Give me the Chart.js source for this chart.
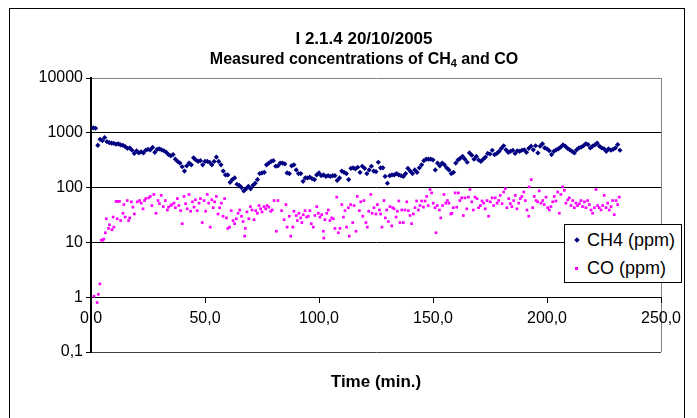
<!DOCTYPE html>
<html>
<head>
<meta charset="utf-8">
<script src="https://cdn.jsdelivr.net/npm/chart.js@4/dist/chart.umd.min.js"></script>
<style>
  html, body { margin: 0; padding: 0; background: #fff; }
  #wrap { position: relative; width: 697px; height: 418px; overflow: hidden; }
  #chart { position: absolute; left: 0; top: 0; }
  #frame { position: absolute; left: 9px; top: 8px; width: 676px; height: 440px; box-sizing: border-box;
           border: 1px solid #000; pointer-events: none; }
  #legend { position: absolute; left: 564px; top: 224px; width: 118px; height: 59px; box-sizing: border-box;
            border: 1px solid #000; background: #fff; font: 18px Arial, "Liberation Sans", sans-serif; color: #000; }
  #legend .txt { position: absolute; left: 22px; line-height: 18px; white-space: nowrap; }
  #legend .mk { position: absolute; }
</style>
</head>
<body>
<div id="wrap">
  <canvas id="chart" width="697" height="418"></canvas>
  <div id="frame"></div>
  <div id="legend"></div>
</div>
<script>
// chart text
const titleLine1 = 'I 2.1.4 20/10/2005';
const titleLine2 = ['Measured concentrations of CH', '4', ' and CO']; // middle part is a subscript
const xTitle = 'Time (min.)';
const seriesNames = ['CH4 (ppm)', 'CO (ppm)'];
const seriesColors = ['#000080', '#FF00FF'];

// axes
const xTickValues = [0, 50, 100, 150, 200, 250];
const xTickLabels = ['0,0', '50,0', '100,0', '150,0', '200,0', '250,0'];
const yTickValues = [0.1, 1, 10, 100, 1000, 10000];
const yTickLabels = ['0,1', '1', '10', '100', '1000', '10000'];

// CH4 (ppm), one reading per minute
const ch4Minutes = [
  1,2,3,4,5,6,7,8,9,10, 11,12,13,14,15,16,17,18,19,20,
  21,22,23,24,25,26,27,28,29,30, 31,32,33,34,35,36,37,38,39,40,
  41,42,43,44,45,46,47,48,49,50, 51,52,53,54,55,56,57,58,59,60,
  61,62,63,64,65,66,67,68,69,70, 71,72,73,74,75,76,77,78,79,80,
  81,82,83,84,85,86,87,88,89,90, 91,92,93,94,95,96,97,98,99,100,
  101,102,103,104,105,106,107,108,109,110, 111,112,113,114,115,116,117,118,119,120,
  121,122,123,124,125,126,127,128,129,130, 131,132,133,134,135,136,137,138,139,140,
  141,142,143,144,145,146,147,148,149,150, 151,152,153,154,155,156,157,158,159,160,
  161,162,163,164,165,166,167,168,169,170, 171,172,173,174,175,176,177,178,179,180,
  181,182,183,184,185,186,187,188,189,190, 191,192,193,194,195,196,197,198,199,200,
  201,202,203,204,205,206,207,208,209,210, 211,212,213,214,215,216,217,218,219,220,
  221,222,223,224,225,226,227,228,229,230, 231,232
];
const ch4Ppm = [
  1230,1210,590,760,720,820,690,660,650,640, 620,630,600,590,560,520,530,480,420,470,
  430,450,430,480,500,490,540,440,500,510, 490,470,440,400,380,400,330,300,280,240,
  200,250,280,260,350,320,300,310,260,300, 300,290,260,300,360,300,260,200,170,170,
  125,140,150,115,110,100,87,95,105,95, 110,120,140,180,185,190,260,280,300,310,
  245,250,280,280,270,185,180,250,260,210, 180,180,130,150,150,155,145,140,170,185,
  165,170,160,165,160,165,165,135,150,200, 190,180,140,225,230,220,235,190,245,225,
  180,210,245,200,195,290,230,230,160,120, 165,170,170,180,170,165,160,180,225,200,
  180,210,190,230,260,310,330,330,330,320, 210,280,250,280,260,230,210,180,190,280,
  320,345,370,330,290,430,390,330,370,320, 300,330,360,420,410,480,400,420,460,520,
  580,490,440,460,480,420,470,460,480,490, 440,520,570,490,580,430,570,630,530,510,
  470,400,460,490,510,550,600,570,520,490, 460,430,490,530,550,580,630,610,530,570,
  600,650,570,530,510,460,510,480,500,530, 610,480
];

// CO (ppm) as [minute, ppm] readings
const coReadings = [
  [1.3,1.04],[2.7,0.8],[3.2,1.13],[3.9,1.75],[4.5,11],[5.1,11],[5.6,11.5],[6.3,15],[6.7,27],[7.7,18],
  [8.1,21],[9.2,17],[9.7,29],[10,19],[11,56],[11.5,27],[11.7,56],[12.5,56],[13,25],[14,34],
  [14.4,49],[15,29],[15.9,58],[16.5,25],[17,28],[17.7,55],[18.4,44],[19,33],[20.3,55],[21.3,58],
  [22,52],[22.8,41],[23.5,58],[24,63],[25.3,65],[26,69],[26.7,47],[27.6,75],[28.5,34],[29.4,58],
  [30,51],[30.8,72],[31.7,45],[32.6,58],[33.5,39],[34,44],[35,47],[35.5,49],[36.4,52],[37,43],
  [37.9,63],[38.5,47],[39.3,38],[40,22],[40.8,69],[41.5,51],[42.2,41],[43,75],[43.7,37],[44.5,55],
  [45.2,44],[45.8,60],[46.6,38],[47.4,52],[48,63],[48.8,23],[49.6,58],[50.3,37],[51,75],[51.6,52],
  [52.3,19],[53,60],[53.6,43],[54.2,55],[55,69],[55.7,33],[56.4,43],[57.2,52],[57.9,30],[58.6,63],
  [59.4,28],[60,18],[60.8,19],[61.5,38],[62.3,25],[63,22],[63.7,27],[64.5,34],[65.2,39],[66,30],
  [66.7,24],[67.4,13],[67.7,18],[68.4,36],[69.2,27],[69.9,45],[70.6,39],[71.5,26],[72.2,38],[73,34],
  [73.7,47],[74.4,41],[75,36],[75.9,45],[76.6,41],[77.3,47],[78,44],[78.8,37],[79.5,39],[80.3,58],
  [81.3,16],[82,58],[83.6,38],[84.7,26],[85.5,49],[86,19],[87,30],[87.6,13],[88.5,19],[89,37],
  [90,31],[90.5,25],[91.2,34],[92,28],[92.5,23],[93.1,32],[93.9,38],[94.6,29],[95.3,30],[96,38],
  [96.6,22],[97.5,19],[98.2,31],[99,45],[99.7,34],[100.4,29],[101.2,32],[101.9,16],[102.1,12],[102.6,26],
  [103.4,34],[104.1,39],[104.8,25],[105.6,28],[106.3,27],[107,18],[107.8,67],[108.5,15],[109.2,18],[110,49],
  [110.7,29],[111.4,38],[112.1,19],[112.9,43],[113.3,13],[113.9,49],[114.8,23],[115.4,47],[116.2,16],[116.8,69],
  [117.7,38],[118.3,55],[119.2,30],[119.7,58],[120.6,23],[121.2,19],[121.8,37],[122.7,75],[123.3,34],[124.1,43],
  [125,33],[125.6,49],[126.5,39],[127,33],[127.6,19],[128.5,58],[129.1,28],[129.7,39],[130.4,24],[131.1,45],
  [131.9,20],[132.3,43],[132.9,41],[133.8,29],[134.4,37],[135,57],[135.5,23],[136.3,39],[137,23],[137.7,39],
  [138.5,55],[139.2,38],[139.9,31],[140.6,22],[141.4,33],[142.1,43],[142.8,57],[143.6,39],[144.3,47],[145,57],
  [145.8,44],[146.5,57],[147.2,69],[147.9,47],[148.7,92],[149.4,80],[150.1,52],[150.9,43],[151.3,15],[151.9,47],
  [152.8,39],[153.4,28],[154.2,47],[154.8,75],[155.6,52],[156.3,58],[157,52],[157.8,33],[158.3,34],[158.9,43],
  [159.7,80],[160.4,44],[161.1,80],[161.8,58],[162.6,65],[163.3,31],[164,65],[164.8,41],[165.5,67],[166.2,92],
  [167,55],[167.7,39],[168.4,67],[169.3,63],[170,43],[170.8,47],[171.5,57],[172.2,52],[172.9,41],[173.7,58],
  [174.4,30],[175.1,55],[175.9,65],[176.6,47],[177.3,65],[178.1,52],[178.8,58],[179.5,72],[180.3,51],[181,83],
  [181.7,96],[182.4,43],[183.2,63],[183.9,51],[184.6,45],[185.4,58],[186.1,72],[186.8,41],[187.6,52],[188.3,63],
  [189,69],[189.8,83],[190.5,58],[191.2,39],[192,30],[192.2,103],[193.1,140],[193.7,43],[194.4,69],[195.2,58],
  [195.9,55],[196.6,87],[197.4,52],[198.1,58],[198.8,49],[199.6,67],[200.3,43],[201,39],[201.7,45],[202.5,55],
  [203.2,69],[203.9,57],[204.7,83],[205.4,34],[206.1,75],[206.9,103],[207.6,89],[208.3,52],[209.1,60],[209.8,65],
  [210.5,47],[211.3,58],[212,43],[212.7,52],[213.4,47],[214.2,51],[214.9,58],[215.6,45],[216.4,55],[217.1,43],
  [217.8,58],[218.6,49],[219.3,39],[220,34],[220.8,43],[221.5,92],[222.2,47],[222.9,43],[223.7,39],[224.4,47],
  [225.1,72],[225.9,43],[226.6,52],[227.3,39],[228.1,45],[228.8,58],[229.5,32],[230.3,58],[231,49],[231.7,67]
];

const FONT = 'Arial, "Liberation Sans", sans-serif';
Chart.defaults.font.family = FONT;
Chart.defaults.font.size = 16;
Chart.defaults.color = '#000';

// titles drawn by hand: the CH4 subscript and the off-centre placement of the original
const textPlugin = {
  id: 'chartText',
  afterDraw(chart) {
    const { ctx, chartArea } = chart;
    const mid = (chartArea.left + chartArea.right) / 2;
    const titleX = mid - 12;
    ctx.save();
    ctx.fillStyle = '#000';
    ctx.textBaseline = 'alphabetic';

    ctx.textAlign = 'center';
    ctx.font = 'bold 17px ' + FONT;
    ctx.fillText(titleLine1, titleX, chartArea.top - 34);

    ctx.textAlign = 'left';
    const big = 'bold 16px ' + FONT, small = 'bold 11px ' + FONT;
    ctx.font = big;
    const w0 = ctx.measureText(titleLine2[0]).width;
    const w2 = ctx.measureText(titleLine2[2]).width;
    ctx.font = small;
    const w1 = ctx.measureText(titleLine2[1]).width;
    let x = titleX - (w0 + w1 + w2) / 2;
    const base = chartArea.top - 14;
    ctx.font = big; ctx.fillText(titleLine2[0], x, base); x += w0;
    ctx.font = small; ctx.fillText(titleLine2[1], x, base + 3); x += w1;
    ctx.font = big; ctx.fillText(titleLine2[2], x, base);

    ctx.textAlign = 'center';
    ctx.font = 'bold 17px ' + FONT;
    ctx.fillText(xTitle, mid, chartArea.bottom + 35);
    ctx.restore();
  }
};

const chart = new Chart(document.getElementById('chart'), {
  type: 'scatter',
  data: {
    datasets: [
      {
        label: seriesNames[0],
        data: ch4Minutes.map((t, i) => ({ x: t, y: ch4Ppm[i] })),
        backgroundColor: seriesColors[0],
        pointStyle: 'rectRot',
        pointRadius: 2.6,
        pointBorderWidth: 0
      },
      {
        label: seriesNames[1],
        data: coReadings.map(([t, v]) => ({ x: t, y: v })),
        backgroundColor: seriesColors[1],
        pointStyle: 'rect',
        pointRadius: 1.9,
        pointBorderWidth: 0
      }
    ]
  },
  options: {
    responsive: false,
    animation: false,
    events: [],
    layout: { padding: { left: 20, right: 36, top: 78, bottom: 66 } },
    plugins: {
      legend: { display: false },
      tooltip: { enabled: false },
      title: { display: false }
    },
    scales: {
      x: {
        type: 'linear',
        min: 0,
        max: 250,
        position: { y: 1 },
        afterFit: (axis) => { axis.height = 0; },
        afterBuildTicks: (axis) => { axis.ticks = xTickValues.map(v => ({ value: v })); },
        ticks: {
          padding: 7,
          maxRotation: 0,
          autoSkip: false,
          callback: (v, i) => xTickLabels[i]
        },
        grid: {
          color: (ctx) => (ctx.tick && ctx.tick.value === 250 ? '#808080' : 'rgba(0,0,0,0)'),
          tickLength: 5,
          tickColor: '#000'
        },
        border: { color: '#000', width: 1 }
      },
      y: {
        type: 'logarithmic',
        min: 0.1,
        max: 10000,
        afterFit: (axis) => { axis.width = 71; },
        afterBuildTicks: (axis) => { axis.ticks = yTickValues.map(v => ({ value: v })); },
        ticks: {
          padding: 3,
          callback: (v, i) => yTickLabels[i]
        },
        grid: {
          color: (ctx) => {
            const v = ctx.tick && ctx.tick.value;
            if (v === 10000) return '#808080';
            if (v === 0.1) return '#404040';
            return '#000';
          },
          tickLength: 5,
          tickColor: '#000'
        },
        border: { color: '#000', width: 2 }
      }
    }
  },
  plugins: [textPlugin]
});

// legend box drawn over the plot like the original
const legend = document.getElementById('legend');
const rows = [
  { top: 6, mkTop: 13, shape: 'diamond' },
  { top: 34, mkTop: 42, shape: 'square' }
];
rows.forEach((r, i) => {
  const mk = document.createElement('span');
  mk.className = 'mk';
  mk.style.background = seriesColors[i];
  mk.style.left = '10px';
  mk.style.top = r.mkTop + 'px';
  if (r.shape === 'diamond') {
    mk.style.width = '4px'; mk.style.height = '4px';
    mk.style.transform = 'rotate(45deg)';
  } else {
    mk.style.width = '3px'; mk.style.height = '3px';
  }
  legend.appendChild(mk);
  const txt = document.createElement('span');
  txt.className = 'txt';
  txt.style.top = r.top + 'px';
  txt.textContent = seriesNames[i];
  legend.appendChild(txt);
});
</script>
</body>
</html>
